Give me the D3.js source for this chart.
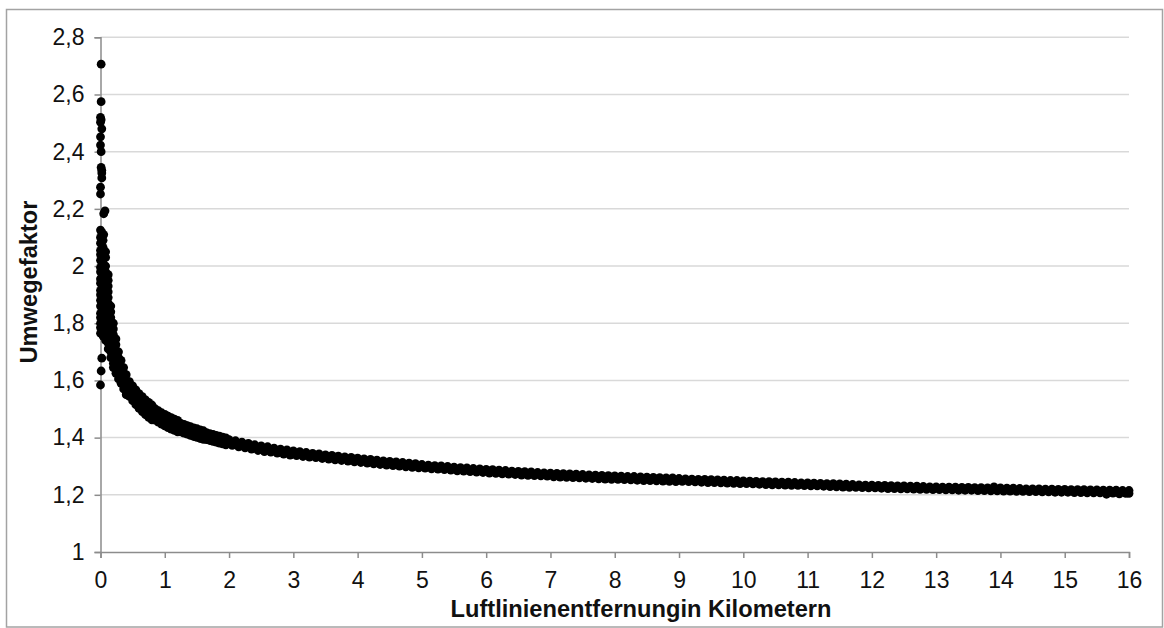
<!DOCTYPE html>
<html>
<head>
<meta charset="utf-8">
<script src="https://cdn.jsdelivr.net/npm/d3@7"></script>
<style>
  html, body { margin: 0; padding: 0; background: #fff; }
  svg { display: block; font-family: "Liberation Sans", Arial, sans-serif; }
</style>
</head>
<body>
<div id="chart"></div>
<script>
// y-axis ticks (Umwegefaktor) and x-axis ticks (km)
const factorTicks = [1, 1.2, 1.4, 1.6, 1.8, 2, 2.2, 2.4, 2.6, 2.8];
const kmTicks = [0, 1, 2, 3, 4, 5, 6, 7, 8, 9, 10, 11, 12, 13, 14, 15, 16];

// isolated points along the y axis, [km, factor]
const outlierPoints = [
  [0.01, 2.706], [0.01, 2.575], [0.0, 2.52], [0.01, 2.512], [0.0, 2.503], [0.02, 2.48],
  [0.0, 2.452], [0.0, 2.423], [0.01, 2.40], [0.01, 2.345], [0.02, 2.335], [0.02, 2.325],
  [0.02, 2.308], [0.0, 2.276], [0.0, 2.252], [0.07, 2.193], [0.05, 2.183], [0.0, 2.126],
  [0.02, 2.118], [0.05, 2.11], [0.02, 1.678], [0.01, 1.633], [0.0, 1.584]
];

// steep part of the cloud, 0 - 0.4 km
const steepPoints = [
  [0.0, 2.10], [0.0, 2.08], [0.0, 2.055], [0.0, 2.04], [0.0, 2.02], [0.0, 1.995], [0.0, 1.98],
  [0.0, 1.955], [0.0, 1.94], [0.0, 1.915], [0.0, 1.90], [0.0, 1.88], [0.0, 1.86], [0.0, 1.835],
  [0.0, 1.82], [0.0, 1.80], [0.0, 1.785], [0.0, 1.765],
  [0.04, 2.09], [0.04, 2.065], [0.04, 2.05], [0.04, 2.03], [0.04, 2.01], [0.04, 1.99], [0.04, 1.97],
  [0.04, 1.95], [0.04, 1.93], [0.04, 1.91], [0.04, 1.89], [0.04, 1.87], [0.04, 1.85], [0.04, 1.83],
  [0.04, 1.81], [0.04, 1.79], [0.04, 1.77], [0.04, 1.755],
  [0.08, 2.05], [0.08, 2.03], [0.08, 2.0], [0.08, 1.98], [0.08, 1.96], [0.08, 1.94], [0.08, 1.92],
  [0.08, 1.90], [0.08, 1.88], [0.08, 1.86], [0.08, 1.84], [0.08, 1.82], [0.08, 1.80], [0.08, 1.78],
  [0.08, 1.76], [0.08, 1.74],
  [0.12, 1.97], [0.12, 1.95], [0.12, 1.93], [0.12, 1.91], [0.12, 1.89], [0.12, 1.87], [0.12, 1.85],
  [0.12, 1.83], [0.12, 1.81], [0.12, 1.79], [0.12, 1.77], [0.12, 1.75], [0.12, 1.73], [0.12, 1.71],
  [0.16, 1.86], [0.16, 1.84], [0.16, 1.82], [0.16, 1.80], [0.16, 1.78], [0.16, 1.76], [0.16, 1.74],
  [0.16, 1.72], [0.16, 1.70], [0.16, 1.68],
  [0.20, 1.80], [0.20, 1.78], [0.20, 1.76], [0.20, 1.74], [0.20, 1.72], [0.20, 1.70], [0.20, 1.68],
  [0.20, 1.66], [0.20, 1.645],
  [0.24, 1.745], [0.24, 1.725], [0.24, 1.705], [0.24, 1.685], [0.24, 1.665], [0.24, 1.645], [0.24, 1.625],
  [0.28, 1.70], [0.28, 1.68], [0.28, 1.66], [0.28, 1.64], [0.28, 1.62], [0.28, 1.605],
  [0.32, 1.67], [0.32, 1.65], [0.32, 1.63], [0.32, 1.61], [0.32, 1.59],
  [0.36, 1.645], [0.36, 1.625], [0.36, 1.605], [0.36, 1.585], [0.36, 1.57],
  [0.40, 1.62], [0.40, 1.60], [0.40, 1.58], [0.40, 1.56], [0.40, 1.55]
];

// bend of the cloud, 0.45 - 1.95 km: km, upper, middle, lower factor
const bendKm = [0.45, 0.50, 0.55, 0.60, 0.65, 0.70, 0.75, 0.80, 0.85, 0.90, 0.95, 1.00, 1.05, 1.10, 1.15, 1.20,
  1.25, 1.30, 1.35, 1.40, 1.45, 1.50, 1.55, 1.60, 1.65, 1.70, 1.75, 1.80, 1.85, 1.90, 1.95];
const bendUpper = [1.596, 1.581, 1.567, 1.554, 1.543, 1.532, 1.523, 1.514, 1.501, 1.494, 1.487, 1.481, 1.475,
  1.470, 1.465, 1.460, 1.450, 1.446, 1.442, 1.438, 1.434, 1.431, 1.427, 1.424, 1.417, 1.414, 1.411, 1.408,
  1.405, 1.402, 1.399];
const bendMiddle = [1.570, 1.555, 1.541, 1.528, 1.517, 1.506, 1.497, 1.488, 1.481, 1.474, 1.467, 1.461, 1.455,
  1.450, 1.445, 1.440, 1.435, 1.431, 1.427, 1.423, 1.419, 1.416, 1.412, 1.409, 1.405, 1.402, 1.399, 1.396,
  1.393, 1.390, 1.387];
const bendLower = [1.544, 1.529, 1.515, 1.502, 1.491, 1.480, 1.471, 1.462, 1.461, 1.454, 1.447, 1.441, 1.435,
  1.430, 1.425, 1.420, 1.420, 1.416, 1.412, 1.408, 1.404, 1.401, 1.397, 1.394, 1.393, 1.390, 1.387, 1.384,
  1.381, 1.378, 1.375];

// long flat tail, 2 - 16 km, [km, factor]
const tailPoints = [
  [2.00, 1.393], [2.05, 1.373], [2.10, 1.389], [2.15, 1.368], [2.20, 1.384], [2.25, 1.364], [2.30, 1.380], [2.35, 1.360], [2.40, 1.375], [2.45, 1.355],
  [2.50, 1.371], [2.55, 1.351], [2.60, 1.368], [2.65, 1.349], [2.70, 1.363], [2.75, 1.346], [2.80, 1.360], [2.85, 1.342], [2.90, 1.357], [2.95, 1.339],
  [3.00, 1.354], [3.05, 1.337], [3.10, 1.351], [3.15, 1.334], [3.20, 1.348], [3.25, 1.332], [3.30, 1.345], [3.35, 1.330], [3.40, 1.343], [3.45, 1.327],
  [3.50, 1.340], [3.55, 1.325], [3.60, 1.338], [3.65, 1.322], [3.70, 1.335], [3.75, 1.320], [3.80, 1.333], [3.85, 1.318], [3.90, 1.331], [3.95, 1.315],
  [4.00, 1.328], [4.05, 1.313], [4.10, 1.326], [4.15, 1.311], [4.20, 1.324], [4.25, 1.308], [4.30, 1.321], [4.35, 1.306], [4.40, 1.319], [4.45, 1.304],
  [4.50, 1.317], [4.55, 1.302], [4.60, 1.315], [4.65, 1.300], [4.70, 1.313], [4.75, 1.298], [4.80, 1.311], [4.85, 1.296], [4.90, 1.309], [4.95, 1.294],
  [5.00, 1.306], [5.05, 1.293], [5.10, 1.304], [5.15, 1.291], [5.20, 1.302], [5.25, 1.290], [5.30, 1.301], [5.35, 1.288], [5.40, 1.299], [5.45, 1.286],
  [5.50, 1.297], [5.55, 1.284], [5.60, 1.295], [5.65, 1.283], [5.70, 1.294], [5.75, 1.281], [5.80, 1.292], [5.85, 1.279], [5.90, 1.291], [5.95, 1.278],
  [6.00, 1.289], [6.05, 1.276], [6.10, 1.288], [6.15, 1.275], [6.20, 1.286], [6.25, 1.273], [6.30, 1.285], [6.35, 1.272], [6.40, 1.283], [6.45, 1.271],
  [6.50, 1.282], [6.55, 1.269], [6.60, 1.281], [6.65, 1.268], [6.70, 1.280], [6.75, 1.267], [6.80, 1.278], [6.85, 1.266], [6.90, 1.277], [6.95, 1.265],
  [7.00, 1.276], [7.05, 1.263], [7.10, 1.275], [7.15, 1.262], [7.20, 1.274], [7.25, 1.261], [7.30, 1.273], [7.35, 1.260], [7.40, 1.272], [7.45, 1.259],
  [7.50, 1.271], [7.55, 1.258], [7.60, 1.270], [7.65, 1.257], [7.70, 1.269], [7.75, 1.256], [7.80, 1.268], [7.85, 1.255], [7.90, 1.267], [7.95, 1.254],
  [8.00, 1.266], [8.05, 1.254], [8.10, 1.265], [8.15, 1.253], [8.20, 1.264], [8.25, 1.252], [8.30, 1.264], [8.35, 1.251], [8.40, 1.263], [8.45, 1.250],
  [8.50, 1.262], [8.55, 1.250], [8.60, 1.261], [8.65, 1.249], [8.70, 1.260], [8.75, 1.248], [8.80, 1.259], [8.85, 1.247], [8.90, 1.259], [8.95, 1.246],
  [9.00, 1.257], [9.05, 1.247], [9.10, 1.256], [9.15, 1.246], [9.20, 1.255], [9.25, 1.245], [9.30, 1.254], [9.35, 1.244], [9.40, 1.254], [9.45, 1.243],
  [9.50, 1.253], [9.55, 1.243], [9.60, 1.252], [9.65, 1.242], [9.70, 1.251], [9.75, 1.241], [9.80, 1.250], [9.85, 1.240], [9.90, 1.250], [9.95, 1.239],
  [10.00, 1.249], [10.05, 1.239], [10.10, 1.248], [10.15, 1.238], [10.20, 1.247], [10.25, 1.237], [10.30, 1.246], [10.35, 1.236], [10.40, 1.246], [10.45, 1.235],
  [10.50, 1.245], [10.55, 1.235], [10.60, 1.244], [10.65, 1.234], [10.70, 1.244], [10.75, 1.233], [10.80, 1.243], [10.85, 1.233], [10.90, 1.242], [10.95, 1.232],
  [11.00, 1.242], [11.05, 1.231], [11.10, 1.241], [11.15, 1.231], [11.20, 1.240], [11.25, 1.230], [11.30, 1.239], [11.35, 1.229], [11.40, 1.239], [11.45, 1.228],
  [11.50, 1.238], [11.55, 1.227], [11.60, 1.237], [11.65, 1.226], [11.70, 1.236], [11.75, 1.226], [11.80, 1.235], [11.85, 1.225], [11.90, 1.234], [11.95, 1.224],
  [12.00, 1.234], [12.05, 1.224], [12.10, 1.233], [12.15, 1.223], [12.20, 1.233], [12.25, 1.222], [12.30, 1.232], [12.35, 1.222], [12.40, 1.231], [12.45, 1.221],
  [12.50, 1.231], [12.55, 1.221], [12.60, 1.230], [12.65, 1.220], [12.70, 1.230], [12.75, 1.219], [12.80, 1.229], [12.85, 1.219], [12.90, 1.228], [12.95, 1.218],
  [13.00, 1.228], [13.05, 1.218], [13.10, 1.227], [13.15, 1.217], [13.20, 1.227], [13.25, 1.217], [13.30, 1.227], [13.35, 1.216], [13.40, 1.226], [13.45, 1.216],
  [13.50, 1.226], [13.55, 1.216], [13.60, 1.225], [13.65, 1.215], [13.70, 1.225], [13.75, 1.215], [13.80, 1.224], [13.85, 1.214], [13.90, 1.228], [13.95, 1.214],
  [14.00, 1.224], [14.05, 1.213], [14.10, 1.223], [14.15, 1.213], [14.20, 1.223], [14.25, 1.212], [14.30, 1.222], [14.35, 1.212], [14.40, 1.221], [14.45, 1.211],
  [14.50, 1.221], [14.55, 1.211], [14.60, 1.221], [14.65, 1.210], [14.70, 1.220], [14.75, 1.210], [14.80, 1.220], [14.85, 1.209], [14.90, 1.219], [14.95, 1.209],
  [15.00, 1.219], [15.05, 1.209], [15.10, 1.218], [15.15, 1.208], [15.20, 1.218], [15.25, 1.208], [15.30, 1.218], [15.35, 1.207], [15.40, 1.217], [15.45, 1.207],
  [15.50, 1.217], [15.55, 1.207], [15.60, 1.216], [15.65, 1.202], [15.70, 1.216], [15.75, 1.206], [15.80, 1.216], [15.85, 1.203], [15.90, 1.215], [15.95, 1.205],
  [16.00, 1.215], [16.00, 1.205]
];

const width = 1164, height = 628;
const locale = d3.formatLocale({ decimal: ",", thousands: ".", grouping: [3], currency: ["", " €"] });
const fmt = locale.format(".1~f");

const x = d3.scaleLinear().domain([0, 16]).range([100.5, 1129]);
const y = d3.scaleLinear().domain([1, 2.8]).range([552, 37.3]);

const svg = d3.select("#chart").append("svg")
  .attr("width", width)
  .attr("height", height);

svg.append("rect")
  .attr("width", width).attr("height", height)
  .attr("fill", "#fff");

// chart frame
svg.append("rect")
  .attr("x", 6.5).attr("y", 9.5)
  .attr("width", 1156).attr("height", 617.5)
  .attr("fill", "none")
  .attr("stroke", "#a3a3a3")
  .attr("stroke-width", 1.5);

// horizontal gridlines
svg.append("g")
  .selectAll("line")
  .data(factorTicks.slice(1))
  .join("line")
    .attr("x1", x(0)).attr("x2", x(16))
    .attr("y1", d => y(d)).attr("y2", d => y(d))
    .attr("stroke", "#d9d9d9")
    .attr("stroke-width", 1.5);

// y axis
const yAxis = svg.append("g")
  .attr("transform", `translate(${x(0)},0)`)
  .call(d3.axisLeft(y).tickValues(factorTicks).tickFormat(fmt).tickSize(6).tickPadding(10));

// x axis
const xAxis = svg.append("g")
  .attr("transform", `translate(0,${y(1)})`)
  .call(d3.axisBottom(x).tickValues(kmTicks).tickFormat(d => d).tickSize(6).tickPadding(14));

[yAxis, xAxis].forEach(g => {
  g.select(".domain").attr("stroke", "#8c8c8c").attr("stroke-width", 1.5);
  g.selectAll(".tick line").attr("stroke", "#8c8c8c").attr("stroke-width", 1.5);
  g.selectAll(".tick text")
    .attr("fill", "#111")
    .style("font-size", "23px")
    .style("font-family", "'Liberation Sans', Arial, sans-serif");
});

// axis titles
svg.append("text")
  .attr("x", 641).attr("y", 617)
  .attr("text-anchor", "middle")
  .attr("textLength", 381)
  .attr("lengthAdjust", "spacingAndGlyphs")
  .style("font-size", "23px")
  .style("font-weight", "bold")
  .attr("fill", "#111")
  .text("Luftlinienentfernungin Kilometern");

svg.append("text")
  .attr("transform", "translate(37,282) rotate(-90)")
  .attr("text-anchor", "middle")
  .attr("textLength", 163)
  .attr("lengthAdjust", "spacingAndGlyphs")
  .style("font-size", "23px")
  .style("font-weight", "bold")
  .attr("fill", "#111")
  .text("Umwegefaktor");

// scatter points
const bendPoints = bendKm.flatMap((k, i) => [[k, bendUpper[i]], [k, bendMiddle[i]], [k, bendLower[i]]]);
const allPoints = outlierPoints.concat(steepPoints, bendPoints, tailPoints);

svg.append("g")
  .selectAll("circle")
  .data(allPoints)
  .join("circle")
    .attr("cx", d => x(d[0]))
    .attr("cy", d => y(d[1]))
    .attr("r", 4.4)
    .attr("fill", "#000");
</script>
</body>
</html>
